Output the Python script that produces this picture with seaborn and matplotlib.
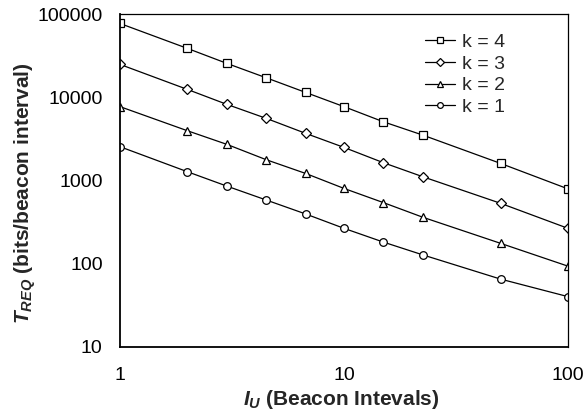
import matplotlib
matplotlib.use("Agg")
import matplotlib.pyplot as plt
import seaborn as sns
import pandas as pd
from matplotlib.ticker import LogLocator, FixedLocator, FixedFormatter, NullFormatter

sns.set_theme(style="white")
plt.rcParams['font.family'] = ['Liberation Sans', 'DejaVu Sans']
plt.rcParams['mathtext.fontset'] = 'custom'
plt.rcParams['mathtext.it'] = 'Liberation Sans:italic:bold'
plt.rcParams['mathtext.rm'] = 'Liberation Sans:bold'

# Data
intervals = [1, 2, 3, 4.5, 6.75, 10, 15, 22.5, 50, 100]
k4 = [77000, 38600, 25500, 17100, 11400, 7700, 5060, 3500, 1600, 790]
k3 = [24800, 12400, 8200, 5560, 3670, 2490, 1630, 1105, 530, 265]
k2 = [7700, 3950, 2710, 1770, 1210, 800, 540, 360, 175, 93]
k1 = [2540, 1270, 853, 580, 394, 265, 181, 127, 65, 40]
series_labels = ["k = 4", "k = 3", "k = 2", "k = 1"]
series_markers = ["s", "D", "^", "o"]
y_ticks = [10, 100, 1000, 10000, 100000]
x_ticks = [1, 10, 100]

fig = plt.figure(figsize=(5.86, 4.13), dpi=100)
ax = fig.add_axes([0.2048, 0.1605, 0.7645, 0.8055])

for vals, lab, mk in zip([k4, k3, k2, k1], series_labels, series_markers):
    df = pd.DataFrame({"x": intervals, "y": vals})
    ms = 5.5 if mk != "D" else 5.0
    sns.lineplot(data=df, x="x", y="y", ax=ax, color="black", linewidth=0.9,
                 marker=mk, markersize=ms, markerfacecolor="white",
                 markeredgecolor="black", markeredgewidth=0.9, label=lab)

ax.set_xscale("log")
ax.set_yscale("log")
ax.set_xlim(1, 100)
ax.set_ylim(10, 100000)

ax.xaxis.set_major_locator(FixedLocator(x_ticks))
ax.xaxis.set_major_formatter(FixedFormatter([str(v) for v in x_ticks]))
ax.yaxis.set_major_locator(FixedLocator(y_ticks))
ax.yaxis.set_major_formatter(FixedFormatter([str(v) for v in y_ticks]))
ax.xaxis.set_minor_locator(LogLocator(base=10, subs=range(2, 10)))
ax.yaxis.set_minor_locator(LogLocator(base=10, subs=range(2, 10)))
ax.xaxis.set_minor_formatter(NullFormatter())
ax.yaxis.set_minor_formatter(NullFormatter())

ax.tick_params(axis="both", which="major", direction="inout", length=9, width=1,
               color="black", labelsize=14, labelcolor="black")
ax.tick_params(axis="both", which="minor", direction="in", length=4, width=0.8,
               color="black")
ax.tick_params(axis="x", which="major", pad=10)
ax.tick_params(axis="y", which="major", pad=8)
ax.tick_params(top=False, right=False, which="both")

for sp in ["left", "bottom"]:
    ax.spines[sp].set_linewidth(1.3)
    ax.spines[sp].set_color("black")
for sp in ["top", "right"]:
    ax.spines[sp].set_linewidth(0.9)
    ax.spines[sp].set_color("black")

ax.set_xlabel(r"$I_U$ (Beacon Intevals)", fontsize=15, fontweight="bold")
ax.set_ylabel(r"$T_{REQ}$ (bits/beacon interval)", fontsize=15, fontweight="bold")
ax.xaxis.set_label_coords(0.493, -0.125)
ax.yaxis.set_label_coords(-0.183, 0.463)

leg = ax.legend(loc="upper left", frameon=False, fontsize=14, handlelength=1.55,
                handletextpad=0.36, labelspacing=0.22, borderaxespad=0, borderpad=0,
                markerscale=0.75, bbox_to_anchor=(0.681, 0.943))

fig.savefig("out.png", dpi=100)
